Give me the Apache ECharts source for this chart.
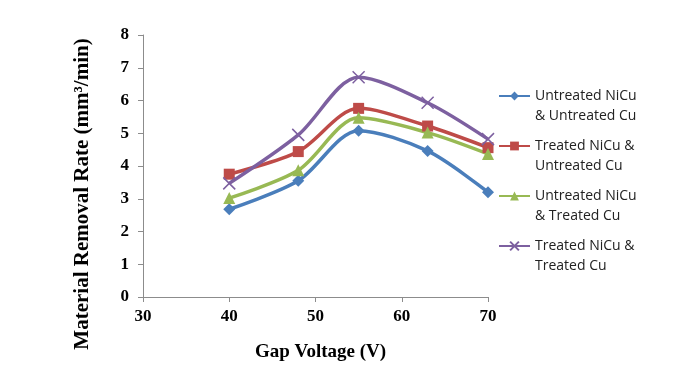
<!DOCTYPE html>
<html>
<head>
<meta charset="utf-8">
<script src="https://cdn.jsdelivr.net/npm/echarts@6/dist/echarts.min.js"></script>
<style>
  html, body { margin: 0; padding: 0; background: #fff; }
  #chart { width: 676px; height: 378px; }
</style>
</head>
<body>
<div id="chart"></div>
<script>
// gap voltage (V)
const voltage = [40, 48, 55, 63, 70]

// material removal rate (mm3/min)
const untreatedNiUntreatedCu = [2.68, 3.55, 5.08, 4.46, 3.2]
const treatedNiUntreatedCu = [3.75, 4.44, 5.76, 5.22, 4.56]
const untreatedNiTreatedCu = [3.02, 3.87, 5.47, 5.02, 4.37]
const treatedNiTreatedCu = [3.47, 4.95, 6.71, 5.93, 4.82]

const seriesNames = [
  'Untreated NiCu\n& Untreated Cu',
  'Treated NiCu &\nUntreated Cu',
  'Untreated NiCu\n& Treated Cu',
  'Treated NiCu &\nTreated Cu'
]

const colors = ['#4a7ebb', '#be4b48', '#98b954', '#7d60a0']
const crossPath = 'path://M0,0L10,10M10,0L0,10'

function pairs (ys) {
  return voltage.map((v, i) => [v, ys[i]])
}

const chart = echarts.init(document.getElementById('chart'))

const serifBold = { fontFamily: 'Liberation Serif', fontWeight: 'bold', color: '#000' }

const option = {
  animation: false,
  color: colors,
  grid: { left: 143, right: 188, top: 35, bottom: 81 },
  legend: {
    orient: 'vertical',
    left: 493,
    top: 61,
    itemGap: -10,
    itemWidth: 31,
    itemHeight: 11,
    textStyle: { fontFamily: 'Open Sans', fontSize: 14, color: '#222', lineHeight: 20 },
    // leading blank line keeps the icon level with the first text line
    formatter: name => '\n' + name,
    data: seriesNames
  },
  xAxis: {
    type: 'value',
    min: 30,
    max: 70,
    interval: 10,
    name: 'Gap Voltage (V)',
    nameLocation: 'middle',
    nameGap: 46,
    nameTextStyle: Object.assign({ fontSize: 19, padding: [0, 0, 0, 10] }, serifBold),
    axisLine: { lineStyle: { color: '#8c8c8c' } },
    axisTick: { length: 5, lineStyle: { color: '#8c8c8c' } },
    axisLabel: Object.assign({ fontSize: 17, margin: 11 }, serifBold),
    splitLine: { show: false }
  },
  yAxis: {
    type: 'value',
    min: 0,
    max: 8,
    interval: 1,
    name: 'Material Removal Rate (mm³/min)',
    nameLocation: 'middle',
    nameGap: 50,
    nameTextStyle: Object.assign({ fontSize: 21, padding: [0, 56, 0, 0] }, serifBold),
    axisLine: { show: true, lineStyle: { color: '#8c8c8c' } },
    axisTick: { show: true, length: 5, lineStyle: { color: '#8c8c8c' } },
    axisLabel: Object.assign({ fontSize: 17, margin: 14 }, serifBold),
    splitLine: { show: false }
  },
  series: [
    {
      name: seriesNames[0],
      type: 'line',
      smooth: 0.3,
      data: pairs(untreatedNiUntreatedCu),
      symbol: 'diamond',
      symbolSize: 12,
      lineStyle: { width: 3.5 }
    },
    {
      name: seriesNames[1],
      type: 'line',
      smooth: 0.3,
      data: pairs(treatedNiUntreatedCu),
      symbol: 'rect',
      symbolSize: 11,
      lineStyle: { width: 3.5 }
    },
    {
      name: seriesNames[2],
      type: 'line',
      smooth: 0.3,
      data: pairs(untreatedNiTreatedCu),
      symbol: 'triangle',
      symbolSize: 12,
      lineStyle: { width: 3.5 }
    },
    {
      name: seriesNames[3],
      type: 'line',
      smooth: 0.3,
      data: pairs(treatedNiTreatedCu),
      symbol: crossPath,
      symbolSize: 12,
      itemStyle: { color: 'none', borderColor: colors[3], borderWidth: 1.5 },
      lineStyle: { width: 3.5, color: colors[3] }
    }
  ]
}

chart.setOption(option)
</script>
</body>
</html>
